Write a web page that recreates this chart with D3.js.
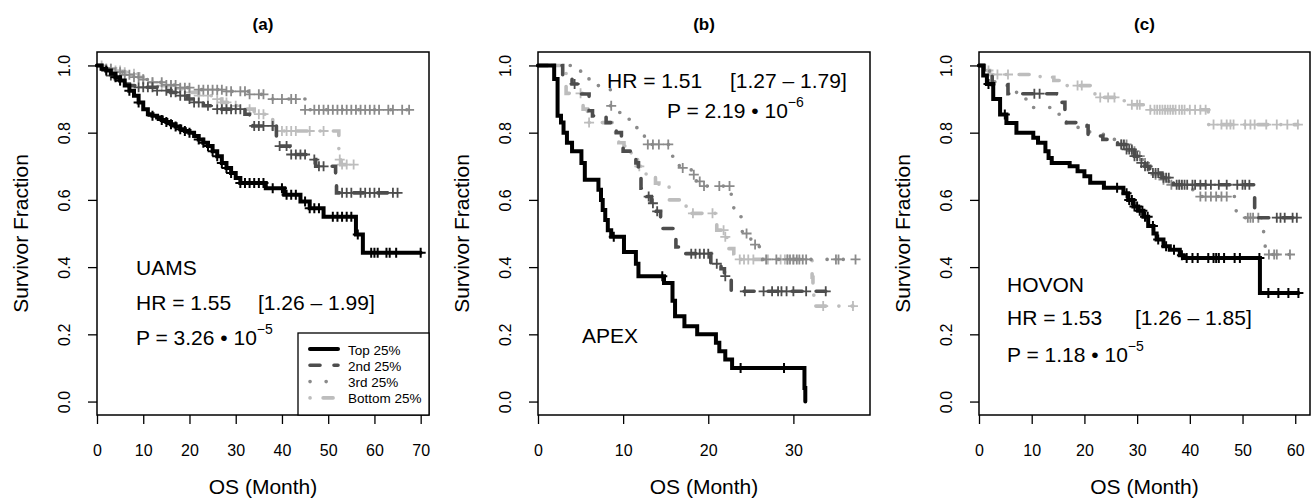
<!DOCTYPE html>
<html>
<head>
<meta charset="utf-8">
<script src="https://cdn.jsdelivr.net/npm/d3@7"></script>
<style>
body { margin: 0; background: #fff; }
text { font-family: 'Liberation Sans', Arial, Helvetica, sans-serif; white-space: pre; }
</style>
</head>
<body>
<svg id="chart" width="1312" height="504"></svg>
<script>
// ---- data: [month, survival] after each drop, plus censoring times ----
var uamsTop = [[1,0.99],[2,0.985],[3,0.975],[4,0.965],[5,0.955],[6,0.94],[7,0.925],[8,0.91],[9,0.89],[10,0.87],[11,0.855],[12,0.85],[13,0.845],[14,0.838],[15,0.832],[16,0.825],[17,0.818],[18,0.81],[19,0.805],[20,0.8],[21,0.79],[22,0.78],[23,0.77],[24,0.76],[25,0.745],[26,0.73],[27,0.71],[28,0.695],[29,0.68],[30,0.665],[31,0.65],[36.5,0.635],[40.5,0.615],[44,0.595],[46,0.575],[49,0.55],[56,0.497],[57.5,0.443]];
var uamsTopCens = [2,4,5,7,9,12,14,15,16,17,18,19,20,22,23,24,25,26,27,28,29,31,32,33,34,35,36,38,40,41,42,43,45,46,47,48,51,52,53,54,55,56.4,59.3,60,60.7,62.6,63.3,64.7,70];
var uams2nd = [[1,0.99],[2,0.98],[3,0.97],[4,0.96],[5,0.955],[6,0.945],[7,0.94],[8.5,0.935],[13,0.925],[16,0.92],[18,0.91],[19.5,0.9],[21,0.89],[23,0.88],[25,0.87],[32,0.855],[33,0.84],[33.7,0.82],[38.8,0.785],[39.2,0.76],[41.7,0.735],[46.7,0.72],[47.3,0.7],[51.6,0.66],[51.8,0.621]];
var uams2ndCens = [3,5,9,10,11,12,13,15,16,17,18,19,20,21,22,24,26,27,28,29,30,31,34,35,36,38,39.5,41,42,43,44,45,47,48,49,53,54,55,57,58,59,60,61,64,65];
var uams3rd = [[2,0.99],[4,0.98],[6,0.972],[8,0.965],[10,0.958],[12,0.95],[15,0.942],[18,0.934],[22,0.928],[28,0.923],[33,0.914],[37.8,0.9],[45,0.868]];
var uams3rdCens = [2,3,4,5,6,7,8,9,10,12,14,15,16,17,18,19,20,22,23,24,25,26,27,28,29,31,32,33,35,36,38,40,42,43,45,47,48,49,50,51,52,53,54,55,56,57,58,59,60,61,63,64,66,67.5];
var uamsBottom = [[2,0.99],[4,0.985],[6,0.98],[8,0.975],[9,0.965],[10,0.96],[12,0.95],[14,0.94],[17,0.93],[19,0.92],[22,0.91],[25,0.9],[27,0.89],[29.5,0.88],[31,0.87],[34,0.855],[38,0.805],[52.3,0.75],[52.5,0.72],[52.7,0.705]];
var uamsBottomCens = [1,2,3,4,5,6,8,10,12,14,16,18,20,22,24,26,27,28,30,33,35,36,40,41,42,43,46,49,52.5,53,54,55.5];

var apexTop = [[1.9,0.96],[2.3,0.85],[2.7,0.83],[3.0,0.8],[3.4,0.77],[4.0,0.745],[5.1,0.71],[5.5,0.66],[7.1,0.63],[7.4,0.6],[7.6,0.57],[7.9,0.54],[8.2,0.51],[8.6,0.49],[10.1,0.445],[11.5,0.41],[11.8,0.373],[14.8,0.353],[15.8,0.3],[16.1,0.254],[17.2,0.224],[18.7,0.2],[20.9,0.175],[21.3,0.15],[22.0,0.125],[22.8,0.1],[31.3,0.04],[31.4,0.0]];
var apexTopCens = [8.9,14.6,23.8,28.9];
var apex2nd = [[2.9,0.965],[4.0,0.945],[4.9,0.915],[6.0,0.865],[6.4,0.85],[8.0,0.83],[9.2,0.8],[9.8,0.765],[10.0,0.745],[11.5,0.71],[11.8,0.69],[12.1,0.635],[12.8,0.61],[13.3,0.59],[13.9,0.566],[14.4,0.515],[16.2,0.46],[17.2,0.44],[20.3,0.41],[21.5,0.395],[21.9,0.373],[22.7,0.328]];
var apex2ndCens = [4.3,13.0,13.5,14.0,18.0,18.5,19.0,19.5,20.0,21.0,22.0,24.3,26.5,27.5,28.2,28.6,29.2,30.0,31.5,33.8];
var apex3rd = [[4.8,0.983],[5.7,0.96],[7.0,0.94],[8.5,0.88],[9.5,0.86],[10.6,0.84],[11.5,0.815],[12.5,0.765],[15.6,0.73],[16.6,0.695],[18.0,0.675],[18.6,0.655],[19.3,0.641],[22.7,0.59],[23.0,0.57],[23.4,0.55],[24.0,0.5],[25.0,0.467],[26.0,0.445],[26.4,0.423]];
var apex3rdCens = [8.6,12.9,13.5,14.2,15.3,17.0,18.3,19.0,19.5,21.3,22.5,24.5,25.5,26.8,28.0,29.3,29.6,30.0,30.4,30.7,31.1,31.5,35.0,35.3,37.3];
var apexBottom = [[3.3,0.917],[5.3,0.87],[5.8,0.83],[9.1,0.8],[9.5,0.77],[10.1,0.76],[10.6,0.74],[11.7,0.7],[12.7,0.67],[13.8,0.65],[14.2,0.64],[15.4,0.6],[17.4,0.58],[17.5,0.56],[20.9,0.53],[21.0,0.51],[21.9,0.49],[22.2,0.475],[22.4,0.455],[23.0,0.44],[23.6,0.423],[32.2,0.37],[32.3,0.33],[32.4,0.3],[32.6,0.284]];
var apexBottomCens = [5.0,6.0,11.9,18.2,20.5,21.8,22.0,23.7,24.2,24.7,25.3,27.0,28.5,29.0,29.3,30.0,33.5,37.0];

var hovonTop = [[0.8,0.97],[1.5,0.945],[2.7,0.9],[4.0,0.854],[5.2,0.829],[7.1,0.8],[10.3,0.785],[11.2,0.77],[12.6,0.745],[13.2,0.725],[13.8,0.71],[17.2,0.7],[18.7,0.685],[20.0,0.67],[21.1,0.651],[23.7,0.636],[27.4,0.62],[28.3,0.6],[29.3,0.58],[30.2,0.568],[31.2,0.55],[32.1,0.522],[33.1,0.5],[33.7,0.482],[35.0,0.462],[36.2,0.452],[38.1,0.435],[38.8,0.427],[53.3,0.323]];
var hovonTopCens = [1.8,4.9,26.2,28,28.5,29,29.5,30,30.5,31,31.5,32,33,34,35.5,37,38.5,39.4,40.5,41.5,43.5,44.5,45,45.5,46.5,48.5,49.5,53.2,54.9,56.8,58.7,60.6];
var hovon2nd = [[1.0,0.97],[2.5,0.943],[5.5,0.916],[14.7,0.89],[16.3,0.865],[16.6,0.83],[20.5,0.82],[20.7,0.79],[23.5,0.78],[26.3,0.765],[28.0,0.75],[29.5,0.73],[30.5,0.71],[31.5,0.7],[32.4,0.68],[34.7,0.666],[36.2,0.655],[36.9,0.645],[52.3,0.547]];
var hovon2ndCens = [10.5,11.5,27,27.5,28,28.5,29,29.5,30,30.8,31.5,32,33,33.5,34,35,35.5,36,37.5,38,38.5,39,39.5,40.5,41,42,43,44,45.5,47,49,50,50.5,51.3,56.5,57.2,58,59.5,60.3];
var hovon3rd = [[1.0,0.985],[2.0,0.97],[3.0,0.95],[4.0,0.94],[6.0,0.92],[8.0,0.9],[10.0,0.875],[13.5,0.87],[15.0,0.855],[16.6,0.825],[18.8,0.815],[21.0,0.795],[25.0,0.78],[27.0,0.765],[28.5,0.745],[30.0,0.73],[31.0,0.71],[32.0,0.69],[33.0,0.675],[34.5,0.66],[36.0,0.645],[40.0,0.63],[41.5,0.61],[48.8,0.547],[54.0,0.49],[54.3,0.4375]];
var hovon3rdCens = [27,28,29,29.5,30.5,31.5,33.5,35,36.5,38,42,43,44,45,46,47,51,51.5,52,53,55,56,56.5,59];
var hovonBottom = [[1.0,0.985],[2.0,0.973],[11.6,0.965],[14.2,0.955],[16.0,0.94],[21.5,0.92],[22.0,0.905],[27.0,0.895],[28.3,0.883],[31.8,0.868],[43.5,0.824]];
var hovonBottomCens = [1.8,3.5,5.5,18.7,19.5,23.0,24.5,25.7,29.0,30.0,30.5,32.5,33.3,33.8,34.3,34.8,35.3,35.8,36.3,36.8,37.3,38,38.5,39,40,41,42,43,44.5,46,47,47.7,48.3,50.5,51.5,52.3,54.5,56.5,58.5,60.5];

var groupNames = ['Top 25%', '2nd 25%', '3rd 25%', 'Bottom 25%'];
var yTicks = [0, 0.2, 0.4, 0.6, 0.8, 1.0];

// ---- styles (one per quartile group) ----
var groupStyles = [
	{color: '#000000', width: 4, dash: null},
	{color: '#4d4d4d', width: 3.6, dash: '10,14'},
	{color: '#8a8a8a', width: 3.6, dash: '0.1,16'},
	{color: '#bdbdbd', width: 3.6, dash: '0.1,13,10,13'}
];

var FONT = "'Liberation Sans', Arial, Helvetica, sans-serif";
var TOP = 52, BOTTOM = 415;

// note pieces: [x offset from box left, text]; sup = superscript after the last piece
var panels = [
	{label: '(a)', left: 97, right: 429, xMax: 71.8, xTicks: [0,10,20,30,40,50,60,70],
		curves: [[uamsTop, uamsTopCens], [uams2nd, uams2ndCens], [uams3rd, uams3rdCens], [uamsBottom, uamsBottomCens]],
		notes: [
			{y: 275, parts: [[39, 'UAMS']]},
			{y: 310, parts: [[39, 'HR = 1.55'], [161, '[1.26 \u2013 1.99]']]},
			{y: 345, parts: [[39, 'P = 3.26 \u2022 10']], sup: '\u22125'}
		], legend: true},
	{label: '(b)', left: 538, right: 870, xMax: 39, xTicks: [0,10,20,30],
		curves: [[apexTop, apexTopCens], [apex2nd, apex2ndCens], [apex3rd, apex3rdCens], [apexBottom, apexBottomCens]],
		notes: [
			{y: 88, parts: [[69, 'HR = 1.51'], [192, '[1.27 \u2013 1.79]']]},
			{y: 118, parts: [[129, 'P = 2.19 \u2022 10']], sup: '\u22126'},
			{y: 343, parts: [[44, 'APEX']]}
		]},
	{label: '(c)', left: 979, right: 1310, xMax: 62.8, xTicks: [0,10,20,30,40,50,60],
		curves: [[hovonTop, hovonTopCens], [hovon2nd, hovon2ndCens], [hovon3rd, hovon3rdCens], [hovonBottom, hovonBottomCens]],
		notes: [
			{y: 292, parts: [[28, 'HOVON']]},
			{y: 325, parts: [[28, 'HR = 1.53'], [156, '[1.26 \u2013 1.85]']]},
			{y: 362, parts: [[28, 'P = 1.18 \u2022 10']], sup: '\u22125'}
		]}
];

var svg = d3.select('#chart');

function survAt(steps, t) {
	var s = 1;
	steps.forEach(function(p) { if (p[0] <= t) s = p[1]; });
	return s;
}

panels.forEach(function(panel) {
	var x = d3.scaleLinear().domain([0, panel.xMax]).range([panel.left, panel.right]);
	var y = d3.scaleLinear().domain([-0.04, 1.04]).range([BOTTOM, TOP]);
	var g = svg.append('g');
	var cx = (panel.left + panel.right) / 2;

	// curves, drawn bottom group first so the black one ends on top
	for (var i = panel.curves.length - 1; i >= 0; i--) {
		var steps = panel.curves[i][0], cens = panel.curves[i][1];
		var st = groupStyles[i];
		var end = Math.max(steps[steps.length - 1][0], d3.max(cens));
		var pts = [[0, 1]].concat(steps).concat([[end, steps[steps.length - 1][1]]]);
		var line = d3.line().x(function(d) { return x(d[0]); }).y(function(d) { return y(d[1]); })
			.curve(d3.curveStepAfter);
		g.append('path')
			.attr('d', line(pts))
			.attr('fill', 'none')
			.attr('stroke', st.color)
			.attr('stroke-width', st.width)
			.attr('stroke-linecap', 'round')
			.attr('stroke-dasharray', st.dash);
		g.selectAll(null).data(cens).enter().append('path')
			.attr('d', function(t) {
				var px = x(t), py = y(survAt(steps, t));
				return 'M' + (px - 5) + ',' + py + 'H' + (px + 5) + 'M' + px + ',' + (py - 5) + 'V' + (py + 5);
			})
			.attr('stroke', st.color)
			.attr('stroke-width', i === 0 ? 2 : 1.8)
			.attr('fill', 'none');
	}

	// box
	g.append('rect')
		.attr('x', panel.left).attr('y', TOP)
		.attr('width', panel.right - panel.left).attr('height', BOTTOM - TOP)
		.attr('fill', 'none').attr('stroke', '#000').attr('stroke-width', 1.5);

	// axes
	var ax = g.append('g').attr('transform', 'translate(0,' + BOTTOM + ')')
		.call(d3.axisBottom(x).tickValues(panel.xTicks).tickFormat(d3.format('d')).tickSize(9));
	ax.select('.domain').remove();
	ax.selectAll('line').attr('stroke-width', 1.3);
	ax.selectAll('text').attr('y', 41).attr('dy', null)
		.attr('font-size', 16).attr('font-family', FONT).attr('fill', '#000');

	var ay = g.append('g').attr('transform', 'translate(' + panel.left + ',0)')
		.call(d3.axisLeft(y).tickValues(yTicks).tickFormat(d3.format('.1f')).tickSize(9));
	ay.select('.domain').remove();
	ay.selectAll('line').attr('stroke-width', 1.3);
	ay.selectAll('text').attr('x', null).attr('dy', null)
		.attr('transform', 'translate(-27,0) rotate(-90)')
		.attr('text-anchor', 'middle')
		.attr('font-size', 16).attr('font-family', FONT).attr('fill', '#000');

	// titles
	g.append('text').attr('x', cx).attr('y', 30).attr('text-anchor', 'middle')
		.attr('font-size', 17).attr('font-weight', 'bold').text(panel.label);
	g.append('text').attr('x', cx).attr('y', 494).attr('text-anchor', 'middle')
		.attr('font-size', 21).text('OS (Month)');
	g.append('text')
		.attr('transform', 'translate(' + (panel.left - 69) + ',' + ((TOP + BOTTOM) / 2) + ') rotate(-90)')
		.attr('text-anchor', 'middle').attr('font-size', 21).text('Survivor Fraction');

	// annotations
	panel.notes.forEach(function(n) {
		n.parts.forEach(function(p, k) {
			var t = g.append('text').attr('x', panel.left + p[0]).attr('y', n.y)
				.attr('font-size', 21).text(p[1]);
			if (n.sup && k === n.parts.length - 1) {
				t.append('tspan').attr('dy', -11).attr('font-size', 14).text(n.sup);
			}
		});
	});

	// legend
	if (panel.legend) {
		var lx = 298, ly = 333;
		g.append('rect').attr('x', lx).attr('y', ly)
			.attr('width', panel.right - lx).attr('height', BOTTOM - ly)
			.attr('fill', '#fff').attr('stroke', '#000').attr('stroke-width', 1.3);
		groupNames.forEach(function(name, i) {
			var st = groupStyles[i];
			var yy = ly + 16 + i * 16.3;
			g.append('path')
				.attr('d', 'M' + (lx + 12) + ',' + yy + 'H' + (lx + 40))
				.attr('stroke', st.color).attr('stroke-width', st.width)
				.attr('stroke-linecap', 'round').attr('stroke-dasharray', st.dash);
			g.append('text').attr('x', lx + 50).attr('y', yy + 5.5)
				.attr('font-size', 13.5).text(name);
		});
	}
});
</script>
</body>
</html>
